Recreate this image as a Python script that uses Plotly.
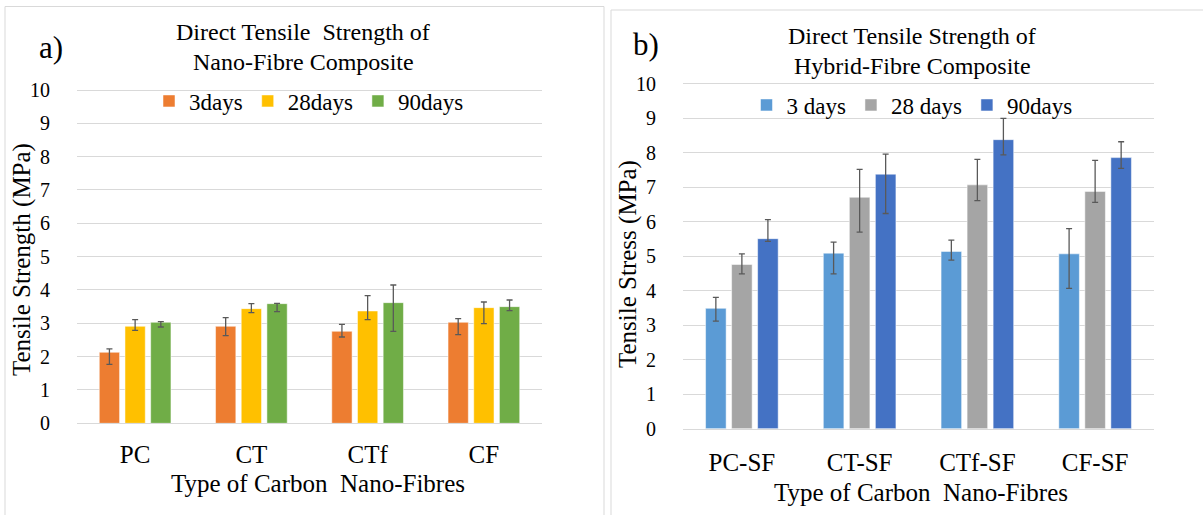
import plotly.graph_objects as go

W, H = 1203, 515

# ---------------- data ----------------
cats_a = ["PC", "CT", "CTf", "CF"]
names_a = ["3days", "28days", "90days"]
a_3 = [2.13, 2.91, 2.76, 3.03]
a_28 = [2.91, 3.44, 3.37, 3.47]
a_90 = [3.03, 3.59, 3.62, 3.50]
a_3_up = [0.10, 0.26, 0.21, 0.11]
a_3_dn = [0.36, 0.28, 0.17, 0.37]
a_28_up = [0.20, 0.15, 0.46, 0.17]
a_28_dn = [0.12, 0.12, 0.26, 0.48]
a_90_up = [0.02, 0.01, 0.53, 0.20]
a_90_dn = [0.14, 0.24, 0.86, 0.12]

cats_b = ["PC-SF", "CT-SF", "CTf-SF", "CF-SF"]
names_b = ["3 days", "28 days", "90days"]
b_3 = [3.49, 5.09, 5.14, 5.07]
b_28 = [4.76, 6.71, 7.07, 6.88]
b_90 = [5.51, 7.38, 8.38, 7.86]
b_3_up = [0.32, 0.32, 0.33, 0.73]
b_3_dn = [0.37, 0.60, 0.25, 1.00]
b_28_up = [0.31, 0.81, 0.74, 0.90]
b_28_dn = [0.27, 1.01, 0.46, 0.32]
b_90_up = [0.55, 0.58, 0.62, 0.46]
b_90_dn = [0.08, 1.14, 0.44, 0.31]

y_ticks = [0, 1, 2, 3, 4, 5, 6, 7, 8, 9, 10]

colors_a = ["#ED7D31", "#FFC000", "#70AD47"]
colors_b = ["#5B9BD5", "#A5A5A5", "#4472C4"]

FONT = "Liberation Serif, Times New Roman, serif"
GRID = "#D9D9D9"
ERR = "#595959"
YMAX = 10.06  # a hair above 10 so the top gridline is drawn


def px(x):
    return x / W


def py(y):
    return 1 - y / H


fig = go.Figure()

series_a = [(a_3, a_3_up, a_3_dn), (a_28, a_28_up, a_28_dn), (a_90, a_90_up, a_90_dn)]
for name, col, (v, up, dn) in zip(names_a, colors_a, series_a):
    fig.add_trace(go.Bar(
        x=cats_a, y=v, name=name, marker=dict(color=col, line=dict(color="rgba(255,255,255,0.5)", width=1)),
        error_y=dict(type="data", symmetric=False, array=up, arrayminus=dn,
                     color=ERR, thickness=1.3, width=3),
        xaxis="x", yaxis="y", legend="legend"))

series_b = [(b_3, b_3_up, b_3_dn), (b_28, b_28_up, b_28_dn), (b_90, b_90_up, b_90_dn)]
for name, col, (v, up, dn) in zip(names_b, colors_b, series_b):
    fig.add_trace(go.Bar(
        x=cats_b, y=v, name=name, marker=dict(color=col, line=dict(color="rgba(255,255,255,0.5)", width=1)),
        error_y=dict(type="data", symmetric=False, array=up, arrayminus=dn,
                     color=ERR, thickness=1.3, width=3),
        xaxis="x2", yaxis="y2", legend="legend2"))

common_y = dict(range=[0, YMAX], tickvals=y_ticks, showgrid=True, gridcolor=GRID, gridwidth=1,
                zeroline=False, showline=False, ticks="outside", ticklen=22,
                tickcolor="rgba(0,0,0,0)", tickfont=dict(family=FONT, size=20, color="black"),
                fixedrange=True, automargin=False)
common_x = dict(showgrid=False, zeroline=False, showline=True, linecolor=GRID, linewidth=1,
                ticks="outside", tickcolor="rgba(0,0,0,0)",
                tickfont=dict(family=FONT, size=25, color="black"), fixedrange=True,
                automargin=False)

# pixel geometry of the two plot areas (value 0 and value 10 rows)
a_y0, a_y10 = 423.3, 90.0
b_y0, b_y10 = 428.7, 83.8
a_top = a_y0 - (a_y0 - a_y10) * YMAX / 10
b_top = b_y0 - (b_y0 - b_y10) * YMAX / 10

fig.update_layout(
    width=W, height=H,
    margin=dict(l=0, r=0, t=0, b=0, autoexpand=False),
    paper_bgcolor="white", plot_bgcolor="white",
    barmode="group", bargap=0.337, bargroupgap=0.21,
    font=dict(family=FONT, color="black"),
    xaxis=dict(domain=[px(77), px(542)], anchor="y", ticklen=9, **common_x),
    yaxis=dict(domain=[py(a_y0), py(a_top)], anchor="x", **common_y),
    xaxis2=dict(domain=[px(683), px(1154)], anchor="y2", ticklen=11, **common_x),
    yaxis2=dict(domain=[py(b_y0), py(b_top)], anchor="x2", **common_y),
    legend=dict(orientation="h", x=px(309), y=py(101), xanchor="center", yanchor="middle",
                font=dict(family=FONT, size=23, color="black"), bgcolor="rgba(0,0,0,0)",
                itemwidth=30, traceorder="normal"),
    legend2=dict(orientation="h", x=px(912), y=py(105), xanchor="center", yanchor="middle",
                 font=dict(family=FONT, size=23, color="black"), bgcolor="rgba(0,0,0,0)",
                 itemwidth=30, traceorder="normal"),
    showlegend=True,
)

ann = []


def text(x, y, s, size, angle=0):
    ann.append(dict(x=px(x), y=py(y), xref="paper", yref="paper", text=s, showarrow=False,
                    xanchor="center", yanchor="middle", textangle=angle,
                    font=dict(family=FONT, size=size, color="black")))


# panel a
text(51, 47, "a)", 31)
text(303, 32, "Direct Tensile  Strength of", 24)
text(303, 62, "Nano-Fibre Composite", 24)
text(318, 483, "Type of Carbon  Nano-Fibres", 25)
text(22, 260, "Tensile Strength (MPa)", 25, -90)
# panel b
text(646, 45, "b)", 31)
text(912, 36, "Direct Tensile Strength of", 24)
text(912, 66, "Hybrid-Fibre Composite", 24)
text(921, 492, "Type of Carbon  Nano-Fibres", 25)
text(628, 264, "Tensile Stress (MPa)", 25, -90)

fig.update_layout(annotations=ann)

# chart-area borders
fig.add_shape(type="rect", xref="paper", yref="paper", x0=px(5), x1=px(604), y0=py(530), y1=py(6.5),
              line=dict(color="#D9D9D9", width=1), fillcolor="rgba(0,0,0,0)", layer="below")
fig.add_shape(type="rect", xref="paper", yref="paper", x0=px(611), x1=px(1220), y0=py(530), y1=py(10),
              line=dict(color="#D9D9D9", width=1), fillcolor="rgba(0,0,0,0)", layer="below")

fig.write_html("out.html",
               config={"displayModeBar": False},
               post_script="document.body.style.margin='0px';document.body.style.overflow='hidden';")
